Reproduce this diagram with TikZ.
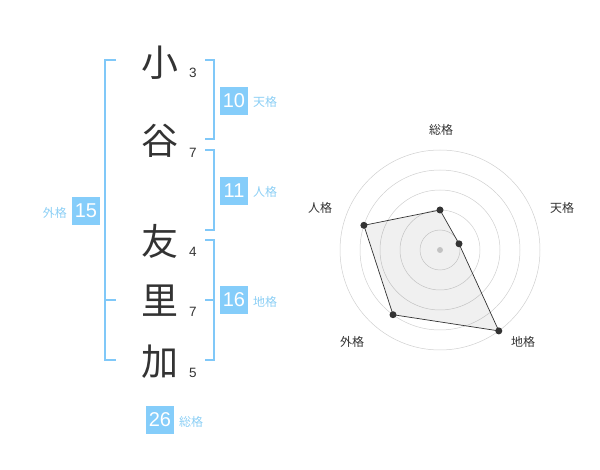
\documentclass[tikz,border=0pt]{standalone}
\usepackage{fontspec}
\setmainfont{Noto Sans CJK JP}
\newfontfamily\numfont{Liberation Sans}
\definecolor{bl}{HTML}{80C8F8}
\definecolor{boxc}{HTML}{85CDFA}
\definecolor{lab}{HTML}{8CCFF5}
\definecolor{ink}{HTML}{333333}
\definecolor{ring}{HTML}{CFCFCF}
\begin{document}
\begin{tikzpicture}[x=1pt,y=-1pt,
  kanji/.style={font=\fontsize{37}{37}\selectfont, text=ink, inner sep=0pt},
  stroke/.style={font=\numfont\fontsize{13.5}{13.5}\selectfont, text=ink, inner sep=0pt},
  brk/.style={draw=bl, line width=1.6pt},
  valbox/.style={fill=boxc, text=white, minimum width=28pt, minimum height=28pt, inner sep=0pt, font=\numfont\fontsize{20}{20}\selectfont},
  glab/.style={text=lab, font=\fontsize{12}{12}\selectfont, inner sep=0pt, anchor=west},
  rlab/.style={text=ink, font=\fontsize{12}{12}\selectfont, inner sep=0pt},
  dot/.style={circle, fill=ink, inner sep=0pt, minimum size=7pt}]
\useasboundingbox (0,0) rectangle (600,470);
% characters
\node[kanji] (c1) at (160,63) {小};
\node[kanji] (c2) at (160,141) {谷};
\node[kanji] (c3) at (160,241) {友};
\node[kanji] (c4) at (160,301) {里};
\node[kanji] (c5) at (160,362) {加};
\node[stroke] (s1) at (193,73) {3};
\node[stroke] (s2) at (193,153) {7};
\node[stroke] (s3) at (193,252) {4};
\node[stroke] (s4) at (193,312) {7};
\node[stroke] (s5) at (193,373) {5};
% brackets
\draw[brk] (116,60) -- (105,60) -- (105,360) -- (116,360);
\draw[brk] (105,300) -- (116,300);
\draw[brk] (205,60) -- (214,60) -- (214,139) -- (205,139);
\draw[brk] (205,150) -- (214,150) -- (214,230) -- (205,230);
\draw[brk] (205,240) -- (214,240) -- (214,360) -- (205,360);
\draw[brk] (205,300) -- (214,300);
% values
\node[valbox] (v1) at (234,101) {10};
\node[glab] (l1) at (253,102) {天格};
\node[valbox] (v2) at (234,191) {11};
\node[glab] (l2) at (253,192) {人格};
\node[valbox] (v3) at (234,300) {16};
\node[glab] (l3) at (253,302) {地格};
\node[valbox] (v4) at (86,211) {15};
\node[glab, anchor=east] (l4) at (67,213) {外格};
\node[valbox] (v5) at (160,420) {26};
\node[glab] (l5) at (179,422) {総格};
% radar
\coordinate (o) at (440,250);
\foreach \r in {20,40,60,80,100} \draw[ring, line width=0.5pt] (o) circle (\r);
\fill[ring] (o) circle (3);
\path (o) ++(0,-40) coordinate (p1);
\path (o) ++(19.0,-6.2) coordinate (p2);
\path (o) ++(58.8,80.9) coordinate (p3);
\path (o) ++(-47.0,64.7) coordinate (p4);
\path (o) ++(-76.1,-24.7) coordinate (p5);
\filldraw[fill=black, fill opacity=0.06, draw=ink, line width=0.7pt] (p1) -- (p2) -- (p3) -- (p4) -- (p5) -- cycle;
\foreach \p in {p1,p2,p3,p4,p5} \node[dot] at (\p) {};
\node[rlab] (r1) at (441,130) {総格};
\node[rlab] (r2) at (562,208) {天格};
\node[rlab] (r3) at (523,342) {地格};
\node[rlab] (r4) at (352,342) {外格};
\node[rlab] (r5) at (320,208) {人格};
\end{tikzpicture}
\end{document}
